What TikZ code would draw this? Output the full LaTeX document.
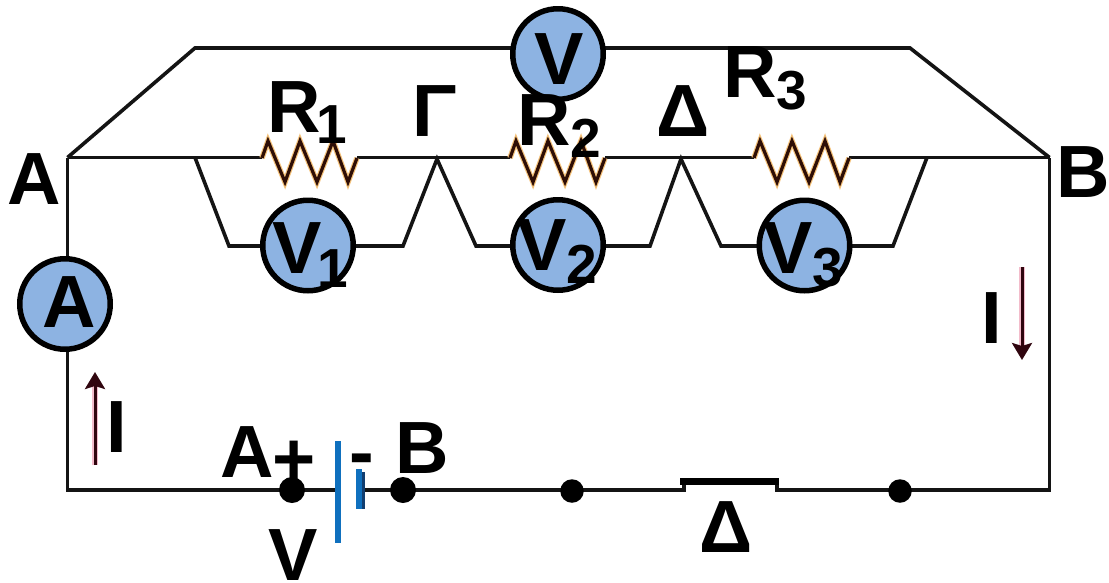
\documentclass[tikz,border=0pt]{standalone}
\usepackage{fontspec}
\setmainfont{Liberation Sans}[Ligatures=TeX]
\usetikzlibrary{arrows.meta}
\definecolor{meterfill}{HTML}{8DB3E2}
\definecolor{batblue}{HTML}{0F70BE}
\definecolor{batdark}{HTML}{123E70}
\definecolor{arrowdark}{HTML}{30060F}
\definecolor{arrowglow}{HTML}{F3BCCB}
\definecolor{resdark}{HTML}{2E0E06}
\definecolor{resglow}{HTML}{F5C27A}
\newcommand{\biglab}[1]{{\fontsize{74}{74}\bfseries\selectfont #1}}
\newcommand{\subdn}[2]{\raisebox{-#1pt}{\fontsize{55}{55}\bfseries\selectfont #2}}
\tikzset{
  wire/.style={draw=black!92,line width=3.6pt,line join=miter},
  meter/.style={circle,draw=black,line width=5.5pt,fill=meterfill,minimum size=90.5pt,inner sep=0pt},
  txt/.style={anchor=base west,inner sep=0pt,outer sep=0pt,text=black},
  termdot/.style={circle,fill=black,minimum size=26pt,inner sep=0pt},
  smalldot/.style={circle,fill=black,minimum size=23.5pt,inner sep=0pt},
  bat/.style={draw=batblue,line width=6pt},
  switchbar/.style={draw=black,line width=7pt},
  curglow/.style={draw=arrowglow,line width=6pt},
  cur/.style={draw=arrowdark,line width=3pt,-{Stealth[length=17pt,width=20pt,inset=3pt]}}
}
\begin{document}
\begin{tikzpicture}[x=1pt,y=-1pt]
\useasboundingbox[fill=white] (0,0) rectangle (1109,582);
% junctions
\coordinate (a) at (67.5,157.5);
\coordinate (b) at (1049.5,157.5);
\coordinate (tl) at (195,48);
\coordinate (tr) at (910,48);
\coordinate (bl) at (67.5,490);
\coordinate (br) at (1049.5,490);
\coordinate (g) at (437,159);
\coordinate (d) at (681,159);
\coordinate (s1) at (195,157.5);
\coordinate (s1b) at (229,246);
\coordinate (e1b) at (403,246);
\coordinate (s2b) at (476,246);
\coordinate (e2b) at (650,246);
\coordinate (s3b) at (721,246);
\coordinate (e3b) at (893,246);
\coordinate (e3) at (927,157.5);
\coordinate (batL) at (336,490);
\coordinate (batR) at (359,490);
\coordinate (swL) at (684,490);
\coordinate (swR) at (777,490);
\coordinate (swLt) at (684,481.5);
\coordinate (swRt) at (777,481.5);
% wires
\draw[wire] (a) -- (b);
\draw[wire] (a) -- (tl) -- (tr) -- (b);
\draw[wire] (a) -- (bl) -- (batL);
\draw[wire] (batR) -- (swL) -- (swLt);
\draw[wire] (swRt) -- (swR) -- (br) -- (b);
\draw[switchbar] ([xshift=-4pt]swLt) -- ([xshift=1.5pt]swRt);
\draw[wire] (s1) -- (s1b) -- (e1b) -- (g) -- (s2b) -- (e2b) -- (d) -- (s3b) -- (e3b) -- (e3);
% resistors
\foreach \dx/\nm in {0/r1,248/r2,492/r3}{
  \begin{scope}[xshift=\dx pt]
    \fill[white] (262,150) rectangle (357,166);
    \draw[draw=resglow,line width=5.5pt,line join=miter] (262,158) -- (268,141) -- (285,182) -- (300,141) -- (317,182) -- (333,141) -- (348,182) -- (357,158);
    \draw[draw=resdark,line width=3.2pt,line join=miter] (262,158) -- (268,141) -- (285,182) -- (300,141) -- (317,182) -- (333,141) -- (348,182) -- (357,158);
  \end{scope}
}
% meters
\node[meter] (mv) at (558,54) {};
\node[meter] (m1) at (308,245.5) {};
\node[meter] (m2) at (558,245) {};
\node[meter] (m3) at (804.5,245.5) {};
\node[meter] (ma) at (65,304) {};
% battery
\coordinate (bat1t) at (338,441);
\coordinate (bat1b) at (338,543);
\coordinate (bat2t) at (359,469);
\coordinate (bat2b) at (359,509);
\coordinate (bat3t) at (363.5,472);
\coordinate (bat3b) at (363.5,509);
\draw[draw=batdark,line width=3.5pt] (bat3t) -- (bat3b);
\draw[bat] (bat1t) -- (bat1b);
\draw[bat] (bat2t) -- (bat2b);
% terminals
\node[termdot] (tp) at (292,490) {};
\node[termdot] (tm) at (403,490) {};
\node[smalldot] (t3) at (572,491) {};
\node[smalldot] (t4) at (900,491) {};
% current arrows
\coordinate (i1a) at (95,465);
\coordinate (i1b) at (95,372);
\coordinate (i2a) at (1022,267);
\coordinate (i2b) at (1022,360);
\draw[curglow] (i1a) -- (95,385);
\draw[curglow] (i2a) -- (1022,347);
\draw[cur] (i1a) -- (i1b);
\draw[cur] (i2a) -- (i2b);
% labels
\node[txt] (lr1) at (267,132) {\biglab{R}\kern-4pt\subdn{11}{1}};
\node[txt] (lg) at (412,136) {\biglab{Γ}};
\node[txt] (lr2) at (517,145) {\biglab{R}\subdn{12}{2}};
\node[txt] (ld1) at (656,136) {\biglab{Δ}};
\node[txt] (lr3) at (723,97) {\biglab{R}\subdn{12}{3}};
\node[txt] (la) at (8,204) {\biglab{A}};
\node[txt] (lb) at (1056,197) {\biglab{B}};
\node[txt] (lv) at (534,84) {\biglab{V}};
\node[txt] (lv1) at (272,273) {\biglab{V}\kern-4pt\subdn{14}{1}};
\node[txt] (lv2) at (517,270) {\biglab{V}\subdn{13}{2}};
\node[txt] (lv3) at (763,273) {\biglab{V}\subdn{13}{3}};
\node[txt] (lam) at (42,327) {\biglab{A}};
\node[txt] (li2) at (981,343) {\biglab{I}};
\node[txt] (li1) at (106,452) {\biglab{I}};
\node[txt] (lap) at (220,477) {\biglab{A}};
\node[txt] (lplus) at (272,484) {\biglab{+}};
\node[txt] (lminus) at (349,477) {\biglab{-}};
\node[txt] (lb2) at (395,473) {\biglab{B}};
\node[txt] (lvb) at (268,580) {\biglab{V}};
\node[txt] (ld2) at (699,552) {\biglab{Δ}};
\end{tikzpicture}
\end{document}
